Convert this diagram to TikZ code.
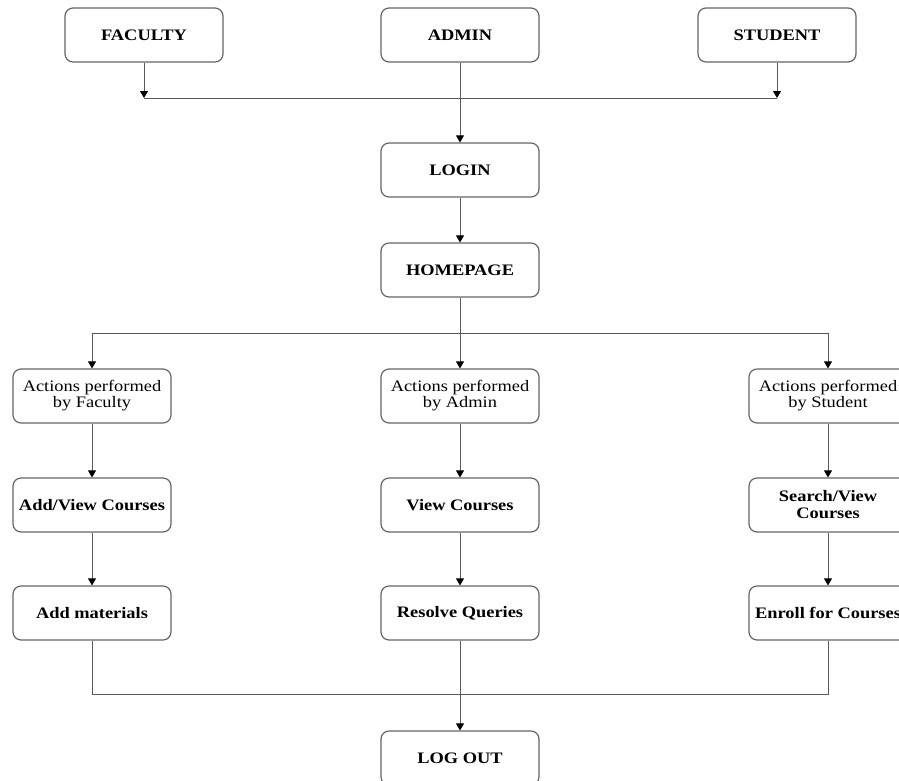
\documentclass[tikz,border=0pt]{standalone}
\usepackage{fontspec}
\setmainfont{Liberation Serif}[FakeStretch=1.15]
\usetikzlibrary{positioning,arrows.meta}

\begin{document}
\begin{tikzpicture}[x=1pt, y=1pt, on grid, auto,
box/.style={draw=black!60, line width=1.2pt, rounded corners=8pt,
minimum width=158pt, minimum height=54pt, align=center,
font=\fontsize{16}{17}\selectfont\bfseries},
act/.style={box, font=\fontsize{16}{16}\selectfont},
link/.style={draw=black!65, line width=1pt},
arr/.style={link, -{Triangle[width=8pt,length=7pt,black]}}]
\clip (0,0) rectangle (899,-780);
\node [box] (admin) at (460,-35) {ADMIN};
\node [box] (faculty) [left = 316pt of admin] {FACULTY};
\node [box] (student) [right = 317pt of admin] {STUDENT};
\node [box] (login) [below = 135pt of admin] {LOGIN};
\node [box] (home) [below = 100pt of login] {HOMEPAGE};
\node [act] (act_a) [below = 126pt of home] {Actions performed\\by Admin};
\node [act] (act_f) [left = 368pt of act_a] {Actions performed\\by Faculty};
\node [act] (act_s) [right = 368pt of act_a] {Actions performed\\by Student};
\node [box] (view_a) [below = 109pt of act_a] {View Courses};
\node [box] (view_f) [below = 109pt of act_f] {Add/View Courses};
\node [box] (view_s) [below = 109pt of act_s] {Search/View\\Courses};
\node [box] (res_a) [below = 108pt of view_a] {Resolve Queries};
\node [box] (mat_f) [below = 108pt of view_f] {Add materials};
\node [box] (enr_s) [below = 108pt of view_s] {Enroll for Courses};
\node [box] (logout) [below = 145pt of res_a] {LOG OUT};
\coordinate [below = 63pt of admin] (top_j);
\coordinate [below = 63pt of home] (mid_j);
\coordinate [below = 81pt of res_a] (bot_j);
\draw [arr] (faculty) -- (faculty |- top_j);
\draw [arr] (student) -- (student |- top_j);
\draw [link] (faculty |- top_j) -- (student |- top_j);
\draw [arr] (mid_j) -| (act_f);
\draw [arr] (mid_j) -| (act_s);
\draw [link] (mat_f) |- (bot_j) -| (enr_s);
\path [arr]
(admin) edge (login)
(login) edge (home)
(home) edge (act_a)
(act_f) edge (view_f)
(act_a) edge (view_a)
(act_s) edge (view_s)
(view_f) edge (mat_f)
(view_a) edge (res_a)
(view_s) edge (enr_s)
(res_a) edge (logout);
\end{tikzpicture}
\end{document}
